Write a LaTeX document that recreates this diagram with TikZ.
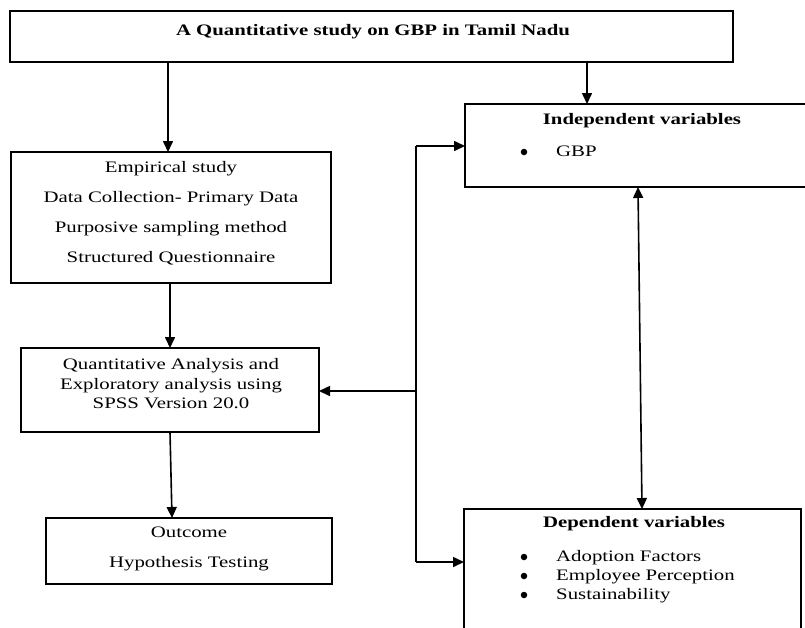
\documentclass[tikz,border=0pt]{standalone}
\usepackage{fontspec}
\setmainfont{Liberation Serif}[FakeStretch=1.3]
\usetikzlibrary{arrows.meta}
\begin{document}
\begin{tikzpicture}[x=1pt,y=-1pt,
  box/.style={draw, line width=1.6pt, inner sep=0pt, outer sep=0pt},
  lbl/.style={inner sep=0pt, font=\fontsize{16}{19}\selectfont, text height=11pt, text depth=3pt},
  ttl/.style={inner sep=0pt, font=\fontsize{16}{19}\selectfont\bfseries, text height=11pt, text depth=3pt},
  line/.style={line width=1.6pt},
  arr/.style={line width=1.6pt, -{Triangle[length=11pt,width=10pt]}},
  arrboth/.style={line width=1.6pt, {Triangle[length=11pt,width=10pt]}-{Triangle[length=11pt,width=10pt]}},
  dot/.style={circle, fill, inner sep=0pt, minimum size=6.5pt}]
\useasboundingbox (0,0) rectangle (805,627);
\clip (0,0) rectangle (805,627);

% boxes
\node[box, minimum width=723pt, minimum height=51pt] (top) at (371.5,36.5) {};
\node[box, minimum width=320pt, minimum height=131pt] (emp) at (171,217.5) {};
\node[box, minimum width=298pt, minimum height=84pt] (quant) at (170,390) {};
\node[box, minimum width=286pt, minimum height=66pt] (outc) at (189,551) {};
\node[box, minimum width=360pt, minimum height=83pt] (ind) at (645,145.5) {};
\node[box, minimum width=337pt, minimum height=152pt] (dep) at (632.5,585) {};

% texts
\node[ttl] (ttitle) at (373,31) {A Quantitative study on GBP in Tamil Nadu};
\node[lbl] (e1) at (171,168) {Empirical study};
\node[lbl] (e2) at (171,198) {Data Collection- Primary Data};
\node[lbl] (e3) at (171,228) {Purposive sampling method};
\node[lbl] (e4) at (171,258) {Structured Questionnaire};
\node[lbl] (q1) at (171,365) {Quantitative Analysis and};
\node[lbl] (q2) at (171,385) {Exploratory analysis using};
\node[lbl] (q3) at (171,404) {SPSS Version 20.0};
\node[lbl] (o1) at (189,533) {Outcome};
\node[lbl] (o2) at (189,563) {Hypothesis Testing};
\node[ttl] (it) at (642,120) {Independent variables};
\node[dot] (ib1) at (524,152) {};
\node[lbl, anchor=west] (i1) at (556,152) {GBP};
\node[ttl] (dt) at (634,523) {Dependent variables};
\node[dot] (db1) at (524,557) {};
\node[dot] (db2) at (524,576) {};
\node[dot] (db3) at (524,595) {};
\node[lbl, anchor=west] (d1) at (556,557) {Adoption Factors};
\node[lbl, anchor=west] (d2) at (556,576) {Employee Perception};
\node[lbl, anchor=west] (d3) at (556,595) {Sustainability};

% helper coordinates
\coordinate (x168) at (168,0);
\coordinate (x587) at (587,0);
\coordinate (x170) at (170,0);
\coordinate (x172) at (172,0);
\coordinate (x638) at (638,0);
\coordinate (x642) at (642,0);
\coordinate (bt) at (416,146);
\coordinate (bm) at (416,391);
\coordinate (bb) at (416,562);

% connectors
\draw[arr] (top.south -| x168) -- (emp.north -| x168);
\draw[arr] (top.south -| x587) -- (ind.north -| x587);
\draw[arr] (emp.south -| x170) -- (quant.north -| x170);
\draw[arr] (quant.south -| x170) -- (outc.north -| x172);
\draw[arrboth] (ind.south -| x638) -- (dep.north -| x642);
\draw[line] (bt) -- (bb);
\draw[arr] (bt) -- (bt -| ind.west);
\draw[arr] (bb) -- (bb -| dep.west);
\draw[arr] (bm) -- (bm -| quant.east);
\end{tikzpicture}
\end{document}
